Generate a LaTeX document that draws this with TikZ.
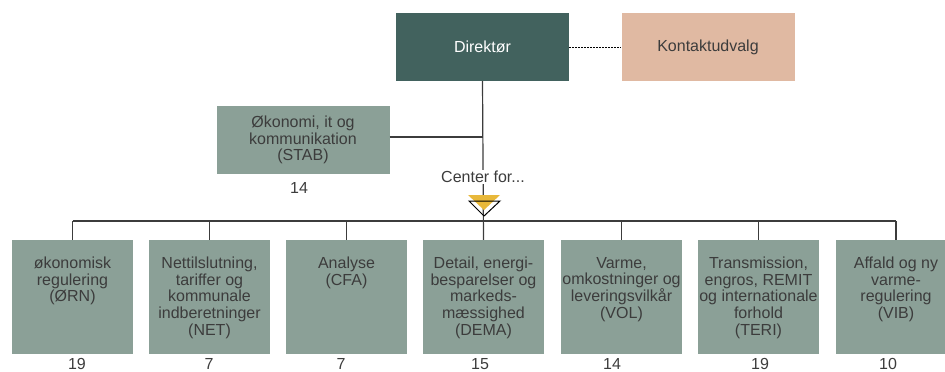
\documentclass[tikz,border=0pt]{standalone}
\usepackage{fontspec}
\setmainfont{Liberation Sans}
\usetikzlibrary{positioning}

\definecolor{dirgreen}{RGB}{66,98,94}
\definecolor{unitgreen}{RGB}{139,160,151}
\definecolor{contactrose}{RGB}{224,185,162}
\definecolor{inkgrey}{RGB}{60,60,60}
\definecolor{centeryellow}{RGB}{232,184,58}

\begin{document}
\begin{tikzpicture}[x=1pt, y=-1pt,
  every node/.style={font=\fontsize{16}{16.7}\selectfont, text=inkgrey},
  topbox/.style={minimum width=173pt, minimum height=68pt, inner sep=0pt},
  unit/.style={fill=unitgreen, minimum width=121pt, minimum height=114pt, inner sep=0pt},
  unittext/.style={align=center, inner sep=0pt},
  conn/.style={draw=inkgrey, line width=1.2pt}]
  \useasboundingbox (0,0) rectangle (945,372);

  % --- top level
  \node[topbox, fill=dirgreen, text=white] (dir) at (482.5,47) {Direktør};
  \node[topbox, fill=contactrose] (contact) at (708,47) {Kontaktudvalg};
  \node[topbox, fill=unitgreen, align=center] (stab) at (303,140)
    {Økonomi, it og\\kommunikation\\(STAB)};
  \node (stabnum) at (299,188) {14};

  \draw[black, line width=0.9pt, dash pattern=on 2pt off 1pt] (dir.east) -- (contact.west);

  % --- the centres
  \foreach \i/\xc/\nx/\txt/\num in {
    1/72.5/77/{økonomisk\\regulering\\(ØRN)}/19,
    2/209.5/209/{Nettilslutning,\\tariffer og\\kommunale\\indberetninger\\(NET)}/7,
    3/346.5/341/{Analyse\\(CFA)}/7,
    4/483.5/480/{Detail, energi-\\besparelser og\\markeds-\\mæssighed\\(DEMA)}/15,
    5/621.5/612/{Varme,\\omkostninger og\\leveringsvilkår\\(VOL)}/14,
    6/758.5/760/{Transmission,\\engros, REMIT\\og internationale\\forhold\\(TERI)}/19,
    7/896/888/{Affald og ny\\varme-\\regulering\\(VIB)}/10}{
    \node[unit] (b\i) at (\xc,297) {};
    \node[unittext, below=17pt of b\i.north] (t\i) {\txt};
    \node (n\i) at (\nx,364) {\num};
  }

  % --- connectors
  \coordinate (bar) at (0,221);
  \draw[conn] (dir.south) -- (b4.north);
  \draw[conn] ([yshift=3pt]stab.east) -- ([yshift=3pt]stab.east -| dir.south);
  \draw[conn] (b1.north |- bar) -- (b7.north |- bar);
  \foreach \i in {1,2,3,5,6,7}
    \draw[conn] (b\i.north) -- (b\i.north |- bar);

  % --- marker under the label
  \fill[centeryellow] (468,195) -- (500,195) -- (484,210) -- cycle;
  \draw[black, line width=1pt] (469,201) -- (500,201) -- (484,216) -- cycle;
  \node[fill=white, inner sep=1pt] (center) at (483,177) {Center for...};
\end{tikzpicture}
\end{document}
